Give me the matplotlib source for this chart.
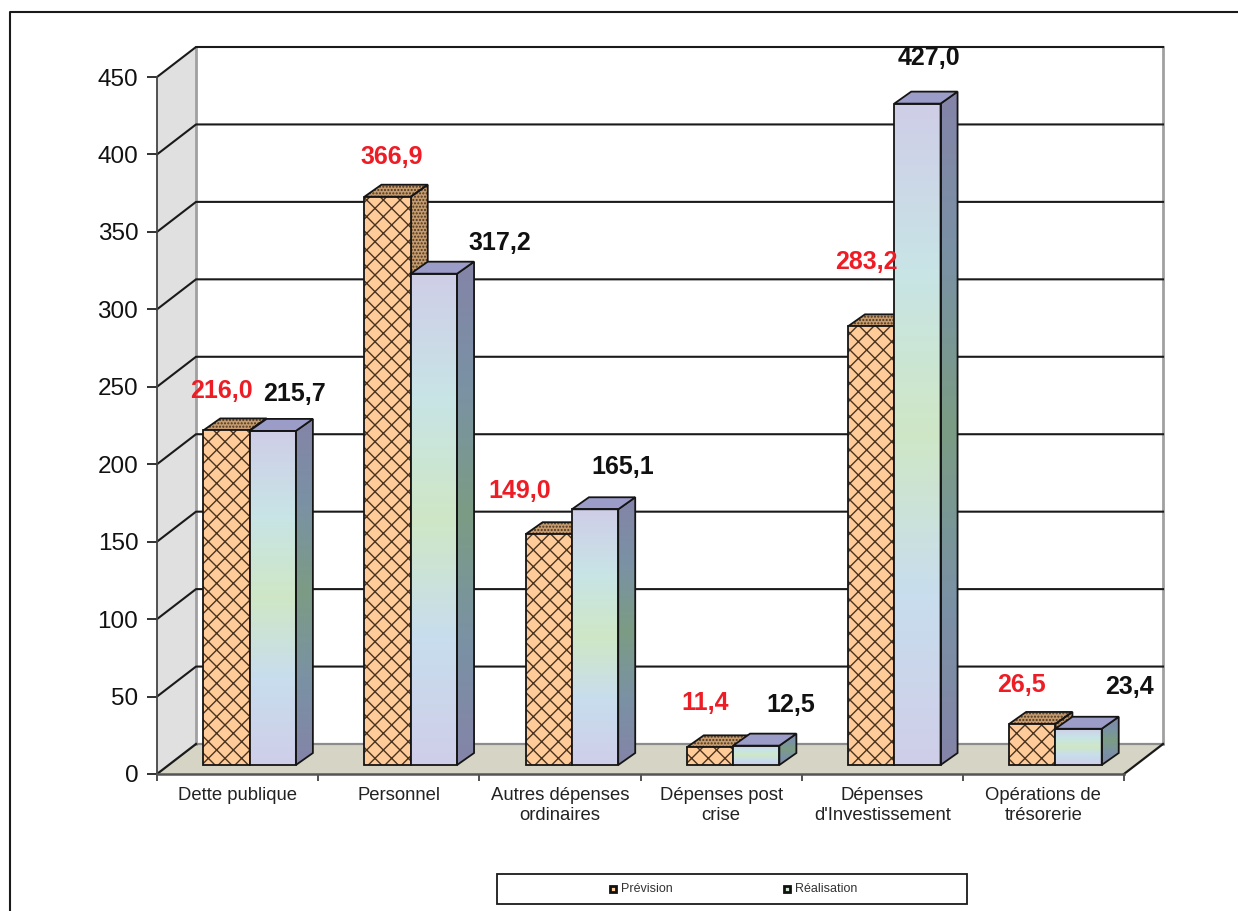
import numpy as np
import matplotlib
matplotlib.use('Agg')
import matplotlib.pyplot as plt
from matplotlib.colors import LinearSegmentedColormap
from matplotlib.patches import Polygon, Rectangle

categories = ['Dette publique', 'Personnel', 'Autres dépenses\nordinaires',
              'Dépenses post\ncrise', 'Dépenses\nd\'Investissement',
              'Opérations de\ntrésorerie']
prevision = [216.0, 366.9, 149.0, 11.4, 283.2, 26.5]
realisation = [215.7, 317.2, 165.1, 12.5, 427.0, 23.4]
yticks = [0, 50, 100, 150, 200, 250, 300, 350, 400, 450]
series_names = ['Prévision', 'Réalisation']

W, H = 1238, 911
AX_L, AX_R, AX_T, AX_B = 157, 1124, 77, 774

fig = plt.figure(figsize=(W / 100, H / 100), dpi=100)
plt.rcParams['font.family'] = ['Liberation Sans', 'DejaVu Sans']
plt.rcParams['hatch.linewidth'] = 1.0
ax = fig.add_axes([AX_L / W, 1 - AX_B / H, (AX_R - AX_L) / W, (AX_B - AX_T) / H])

# pixels to data units
PX = len(categories) / (AX_R - AX_L)
PY = yticks[-1] / (AX_B - AX_T)
DX, DY = 39 * PX, 30 * PY       # depth of the box
BDX, BDY = 17 * PX, 12 * PY     # depth of a bar
BW = 46.3 * PX                  # bar width
OFF_X, OFF_Y = 12 * PX, 9 * PY  # shift of bars from the front


def ramp(cols):
    return LinearSegmentedColormap.from_list('r', cols)


front_cm = ramp(['#CFCEE8', '#C8DDEE', '#CFE7C6', '#C8E4E6', '#CFCEE8'])
side_cm = ramp(['#8484A8', '#7A92A4', '#7C9C84', '#7A92A4', '#8484A8'])


def grad(cm, x0, x1, y0, y1, clip=None, z=3):
    im = ax.imshow(np.linspace(0, 1, 128).reshape(-1, 1), cmap=cm, aspect='auto',
                   extent=[x0, x1, y0, y1], origin='lower', zorder=z, clip_on=True)
    if clip is not None:
        im.set_clip_path(clip)
    return im


# walls and floor
ax.add_patch(Polygon([(0, 0), (DX, DY), (DX, yticks[-1] + DY), (0, yticks[-1])],
                     fc='#E0E0E0', ec='none', zorder=0, clip_on=False))
ax.add_patch(Polygon([(0, 0), (DX, DY), (6 + DX, DY), (6, 0)],
                     fc='#D6D4C4', ec='none', zorder=0, clip_on=False))
ax.plot([DX, DX], [DY, yticks[-1] + DY], color='#A0A0A0', lw=2, zorder=0.5, clip_on=False)
ax.plot([6 + DX, 6 + DX], [DY, yticks[-1] + DY], color='#A0A0A0', lw=2, zorder=0.5, clip_on=False)
ax.plot([DX, 6 + DX], [DY, DY], color='#8C8C8C', lw=1.6, zorder=0.5, clip_on=False)
for v in yticks[1:]:
    ax.plot([0, DX, 6 + DX], [v, v + DY, v + DY], color='#1a1a1a', lw=1.5, zorder=1,
            clip_on=False)
ax.plot([0, DX], [0, DY], color='#1a1a1a', lw=1.6, zorder=1, clip_on=False)
ax.plot([6, 6 + DX], [0, DY], color='#1a1a1a', lw=1.6, zorder=1, clip_on=False)

# bars
for i in range(len(categories)):
    mid = i + 0.5 + OFF_X
    a, b = prevision[i], realisation[i]
    lo = OFF_Y

    # prevision, orange with lattice
    x0, x1 = mid - BW, mid
    for pts in ([(x1, lo + a), (x1 + BDX, lo + a + BDY), (x1 + BDX, lo + BDY), (x1, lo)],
                [(x0, lo + a), (x0 + BDX, lo + a + BDY), (x1 + BDX, lo + a + BDY), (x1, lo + a)]):
        ax.add_patch(Polygon(pts, fc='#C69C6E', ec='#4a3420', lw=0, hatch='.....', zorder=2))
        ax.add_patch(Polygon(pts, fc='none', ec='#151515', lw=1.3, zorder=2.1))
    ax.add_patch(Rectangle((x0, lo), BW, a, fc='#FFCC99', ec='#4a3420', lw=0, hatch='xx', zorder=2.5))
    ax.add_patch(Rectangle((x0, lo), BW, a, fc='none', ec='#151515', lw=1.3, zorder=2.6))

    # realisation, gradient
    x0, x1 = mid, mid + BW
    grad(front_cm, x0, x1, lo, lo + b, z=3)
    side = Polygon([(x1, lo), (x1 + BDX, lo + BDY), (x1 + BDX, lo + b + BDY), (x1, lo + b)],
                   fc='none', ec='#151515', lw=1.3, zorder=3.2)
    ax.add_patch(side)
    grad(side_cm, x1, x1 + BDX, lo, lo + b + BDY, clip=side, z=3.1)
    ax.add_patch(Polygon([(x0, lo + b), (x0 + BDX, lo + b + BDY), (x1 + BDX, lo + b + BDY), (x1, lo + b)],
                         fc='#9C9CC8', ec='#151515', lw=1.3, zorder=3.2))
    ax.add_patch(Rectangle((x0, lo), BW, b, fc='none', ec='#151515', lw=1.3, zorder=3.3))

# value labels, read position from the picture
label_px_prev = [(221, 391), (392, 157), (520, 491), (705, 703), (866, 262), (1021, 685)]
label_px_real = [(294, 394), (500, 243), (623, 467), (791, 705), (929, 58), (1129, 687)]
for (px, py), v in zip(label_px_prev, prevision):
    fig.text(px / W, 1 - py / H, f'{v:.1f}'.replace('.', ','), color='#EE1C25', fontsize=18,
             fontweight='bold', ha='center', va='center', zorder=10)
for (px, py), v in zip(label_px_real, realisation):
    fig.text(px / W, 1 - py / H, f'{v:.1f}'.replace('.', ','), color='#111111', fontsize=18,
             fontweight='bold', ha='center', va='center', zorder=10)

ax.set_xlim(0, 6)
ax.set_ylim(0, 450)
ax.set_xticks(range(7))
ax.set_xticklabels([])
ax.set_xticks(np.arange(6) + 0.5, minor=True)
ax.set_xticklabels(categories, minor=True, fontsize=13.3, color='#222222', linespacing=1.3)
ax.set_yticks(yticks)
ax.set_yticklabels(yticks, fontsize=17.5, color='#111111')
ax.tick_params(axis='x', which='major', length=5, width=1.2, color='#333333')
ax.tick_params(axis='x', which='minor', length=0, pad=9)
ax.tick_params(axis='y', length=7, width=1.3, color='#222222', pad=6.5)
for s in ['top', 'right']:
    ax.spines[s].set_visible(False)
ax.spines['left'].set_linewidth(1.3)
ax.spines['left'].set_color('#444444')
ax.spines['bottom'].set_linewidth(1.8)
ax.spines['bottom'].set_color('#555555')
ax.patch.set_visible(False)

# outer frame and legend box
fig.add_artist(plt.Line2D([10 / W, 10 / W, 1], [0, 1 - 12 / H, 1 - 12 / H], color='#1a1a1a', lw=1.5))
fig.add_artist(Rectangle((497 / W, 1 - 904 / H), 470 / W, 30 / H, transform=fig.transFigure,
                         fc='white', ec='#1a1a1a', lw=1.3))
for px, name, col in [(610, series_names[0], '#FFCC99'), (784, series_names[1], '#CFE7CC')]:
    fig.add_artist(Rectangle((px / W, 1 - 892 / H), 6 / W, 6 / H, transform=fig.transFigure,
                             fc=col, ec='#111111', lw=2))
    fig.text((px + 11) / W, 1 - 888.5 / H, name, fontsize=9, color='#333333', va='center', ha='left')

fig.savefig('out.png', dpi=100)
